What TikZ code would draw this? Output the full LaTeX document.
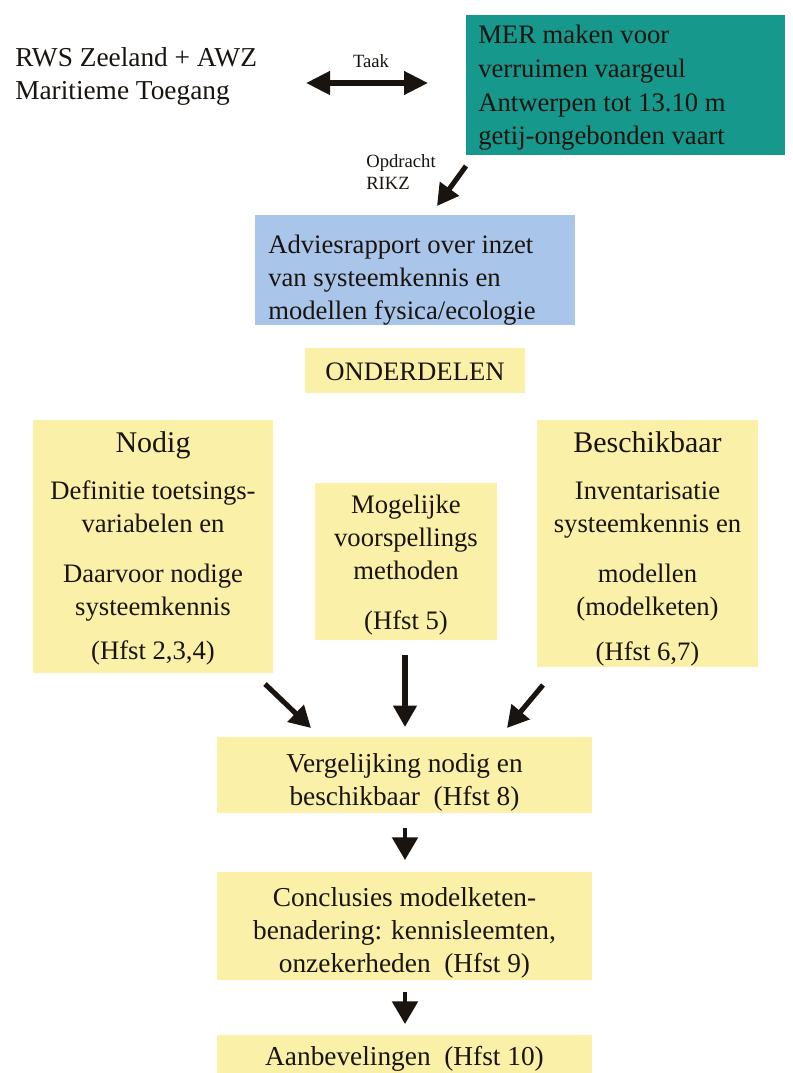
\documentclass[tikz,border=0pt]{standalone}
\usepackage{fontspec}
\setmainfont{Liberation Serif}
\usetikzlibrary{arrows.meta}
\definecolor{tealbox}{RGB}{22,152,140}
\definecolor{bluebox}{RGB}{170,197,234}
\definecolor{yelbox}{RGB}{251,240,168}
\definecolor{ink}{RGB}{25,20,15}
\newcommand{\headfont}{\fontsize{22.5}{24.75}\selectfont}
\begin{document}
\begin{tikzpicture}[x=0.75pt,y=-0.75pt,
  txt/.style={text=ink, inner sep=0pt, font=\fontsize{20}{24.75}\selectfont},
  btxt/.style={text=ink, inner sep=0pt, align=center, font=\fontsize{20.5}{24.75}\selectfont},
  small/.style={text=ink, inner sep=0pt, align=left, font=\fontsize{14}{17}\selectfont},
  panel/.style={inner sep=0pt, draw=none},
  ybox/.style={panel, fill=yelbox},
  heavy/.style={ink, line width=3.8pt, -{Triangle[length=16pt,width=17pt]}},
  shortarr/.style={ink, line width=3.2pt, -{Triangle[length=17pt,width=19pt]}},
  dbl/.style={ink, line width=4pt, {Triangle[length=18pt,width=17pt]}-{Triangle[length=18pt,width=17pt]}}
]
\useasboundingbox[fill=white] (0,0) rectangle (792,1073);

% ---------- top row ----------
\node[txt, align=left, anchor=west, font=\fontsize{20.5}{24.75}\selectfont] (rws) at (15,76.5)
  {RWS Zeeland + AWZ\\Maritieme Toegang};
\node[panel, fill=tealbox, minimum width=239.25pt, minimum height=105pt] (mer) at (625.5,85) {};
\node[txt, align=left, anchor=west, font=\fontsize{20}{25.25}\selectfont] (mer-t) at (478,88)
  {MER maken voor\\verruimen vaargeul\\Antwerpen tot 13.10 m\\getij-ongebonden vaart};
\coordinate (tL) at (306,83);
\coordinate (tR) at (428,83);
\draw[dbl] (tL) -- (tR);
\node[small] (taak) at (371,61) {Taak};

% ---------- opdracht ----------
\node[small, anchor=west] (opd) at (366,172) {Opdracht\\RIKZ};
\coordinate (oA) at (466,166);
\coordinate (oB) at (437,206);
\draw[heavy] (oA) -- (oB);

\node[panel, fill=bluebox, minimum width=240pt, minimum height=82.5pt] (advies) at (415,270) {};
\node[txt, align=left, anchor=west] (advies-t) at (268,280)
  {Adviesrapport over inzet\\van systeemkennis en\\modellen fysica/ecologie};

\node[ybox, minimum width=165pt, minimum height=33.75pt] (onder) at (415,370.5) {};
\node[txt] (onder-t) at (415,372) {ONDERDELEN};

% ---------- three columns ----------
\node[ybox, minimum width=180pt, minimum height=189.75pt] (nodig) at (153,546.5) {};
\node[txt, align=center] (nodig-t) at (153,548.5)
  {{\headfont Nodig}\\[10.5pt]Definitie toetsings-\\variabelen en\\[12.75pt]Daarvoor nodige\\systeemkennis\\[8.25pt](Hfst 2,3,4)};

\node[ybox, minimum width=136.5pt, minimum height=117.75pt] (mog) at (406,561.5) {};
\node[txt, align=center] (mog-t) at (406,565.5)
  {Mogelijke\\voorspellings\\methoden\\[12.75pt](Hfst 5)};

\node[ybox, minimum width=165.75pt, minimum height=185.25pt] (besch) at (647.5,543.5) {};
\node[txt, align=center] (besch-t) at (647.5,548.5)
  {{\headfont Beschikbaar}\\[10.5pt]Inventarisatie\\systeemkennis en\\[12.75pt]modellen\\(modelketen)\\[9pt](Hfst 6,7)};

\coordinate (l1) at (265,684);
\coordinate (l2) at (311,728);
\coordinate (m1) at (405,655);
\coordinate (m2) at (405,727);
\coordinate (r1) at (543,685);
\coordinate (r2) at (507,728);
\draw[heavy] (l1) -- (l2);
\draw[heavy] (m1) -- (m2);
\draw[heavy] (r1) -- (r2);

% ---------- bottom chain ----------
\node[ybox, minimum width=281.25pt, minimum height=57pt] (verg) at (404.5,775) {};
\node[btxt] (verg-t) at (404.5,782) {Vergelijking nodig en\\beschikbaar\ \ (Hfst 8)};

\node[ybox, minimum width=281.25pt, minimum height=81pt] (concl) at (404.5,926) {};
\node[btxt] (concl-t) at (404.5,933)
  {Conclusies modelketen-\\benadering: kennisleemten,\\onzekerheden\ \ (Hfst 9)};

\node[ybox, minimum width=281.25pt, minimum height=40.5pt] (aanb) at (404.5,1062) {};
\node[btxt] (aanb-t) at (404.5,1059) {Aanbevelingen\ \ (Hfst 10)};

\coordinate (v1) at (405,828);
\coordinate (v2) at (405,860);
\coordinate (c1) at (405,992);
\coordinate (c2) at (405,1024);
\draw[shortarr] (v1) -- (v2);
\draw[shortarr] (c1) -- (c2);
\end{tikzpicture}
\end{document}
